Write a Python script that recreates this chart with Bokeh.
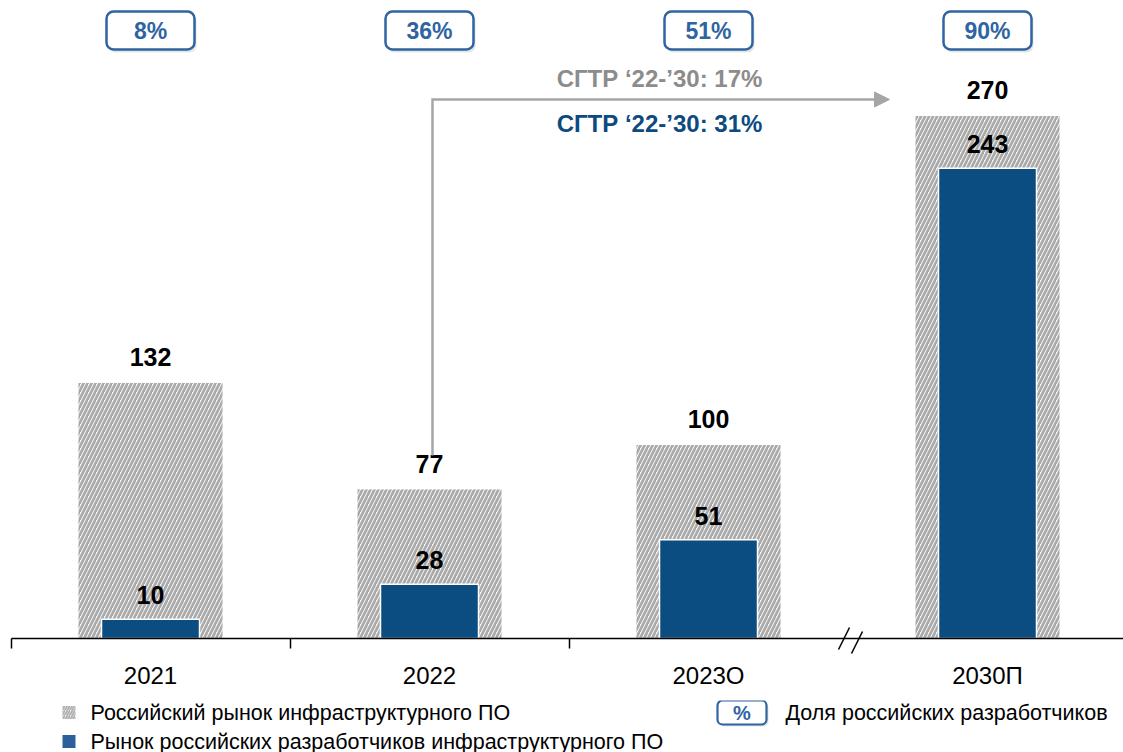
from bokeh.plotting import figure
from bokeh.models import (Range1d, LinearAxis, FixedTicker, ColumnDataSource,
                          Arrow, NormalHead)
from bokeh.layouts import column
from bokeh.core.properties import value
from bokeh.embed import file_html
from bokeh.resources import INLINE

# ---------------- data ----------------
categories = ["2021", "2022", "2023О", "2030П"]
market_total = [132, 77, 100, 270]          # Российский рынок инфраструктурного ПО
russian_dev = [10, 28, 51, 243]             # Рынок российских разработчиков
share_labels = ["8%", "36%", "51%", "90%"]  # Доля российских разработчиков
cagr_total = "СГТР ‘22-’30: 17%"
cagr_rus = "СГТР ‘22-’30: 31%"
legend_total = "Российский рынок инфраструктурного ПО"
legend_rus = "Рынок российских разработчиков инфраструктурного ПО"
legend_share = "Доля российских разработчиков"

# ---------------- style / layout ----------------
FONT = "Liberation Sans"
BLUE = "#0b4d80"
BOX_BLUE = "#2f64a2"
GRAY_ARROW = "#a6a6a6"
W = 1123
TOTAL_H = 752
BASE_PX = 638           # axis line position from top
BELOW_PX = 18           # frame extends below axis line
MAIN_H = 700
PX_CAT = 279.0          # pixels per category
PX_UNIT = 1.935         # pixels per value unit
X0 = -150.0 / PX_CAT
X1 = X0 + W / PX_CAT
Y1 = BASE_PX / PX_UNIT
Y0 = -BELOW_PX / PX_UNIT


def dx(px):
    return px / PX_CAT


def dy(px):
    return px / PX_UNIT


xs = list(range(len(categories)))
BOX_Y = Y1 - dy(30)

src = ColumnDataSource(dict(
    x=xs,
    total=market_total,
    rus=russian_dev,
    total_txt=[str(v) for v in market_total],
    rus_txt=[str(v) for v in russian_dev],
    total_ly=[v + dy(26) for v in market_total],
    rus_ly=[v + dy(24) for v in russian_dev],
    share=share_labels,
    bl=[x - dx(44) for x in xs],
    br=[x + dx(44) for x in xs],
    sl=[x - dx(42) for x in xs],
    sr=[x + dx(46) for x in xs],
    by=[BOX_Y] * len(xs),
))

p = figure(width=W, height=MAIN_H, x_range=Range1d(X0, X1), y_range=Range1d(Y0, Y1),
           output_backend="svg", toolbar_location=None,
           x_axis_type=None, y_axis_type=None,
           min_border_left=0, min_border_right=0, min_border_top=0,
           min_border_bottom=MAIN_H - BASE_PX - BELOW_PX)
p.outline_line_color = None
p.background_fill_color = "white"
p.border_fill_color = "white"

# bars
p.vbar(x="x", top="total", bottom=0, width=dx(144), source=src,
       fill_color="#f4f4f4", line_color=None,
       hatch_pattern="/", hatch_color="#a9a9a9", hatch_scale=8, hatch_weight=2.6)
p.vbar(x="x", top="rus", bottom=0, width=dx(98), source=src,
       fill_color=BLUE, line_color="white", line_width=1.5)

# value labels
p.text(x="x", y="total_ly", text="total_txt", source=src,
       text_font=value(FONT), text_font_style="bold", text_font_size="25px",
       text_color="black", text_align="center", text_baseline="middle")
p.text(x="x", y="rus_ly", text="rus_txt", source=src,
       text_font=value(FONT), text_font_style="bold", text_font_size="25px",
       text_color="black", text_align="center", text_baseline="middle")

# share boxes
p.quad(left="sl", right="sr", top=BOX_Y + dy(17), bottom=BOX_Y - dy(22), source=src,
       fill_color="black", fill_alpha=0.10, line_color=None, border_radius=7)
p.quad(left="bl", right="br", top=BOX_Y + dy(19), bottom=BOX_Y - dy(19), source=src,
       fill_color="white", line_color=BOX_BLUE, line_width=2.5, border_radius=7)
p.text(x="x", y="by", text="share", source=src,
       text_font=value(FONT), text_font_style="bold", text_font_size="23px",
       text_color=BOX_BLUE, text_align="center", text_baseline="middle")

# CAGR connector
xa = 1 + dx(3)
xb = 2 + dx(181)
y_low = 77 + dy(34)
y_top = Y1 - dy(99)
p.line(x=[xa, xa, xb - dx(10)], y=[y_low, y_top, y_top],
       line_color=GRAY_ARROW, line_width=2.5, line_join="miter")
p.add_layout(Arrow(end=NormalHead(size=15, fill_color=GRAY_ARROW, line_color=GRAY_ARROW),
                   x_start=xb - dx(14), y_start=y_top, x_end=xb, y_end=y_top,
                   line_color=GRAY_ARROW, line_width=2.5))
cx = 1 + dx(230)
p.text(x=[cx], y=[Y1 - dy(78)], text=[cagr_total],
       text_font=value(FONT), text_font_style="bold", text_font_size="24px",
       text_color="#8c8c8c", text_align="center", text_baseline="middle")
p.text(x=[cx], y=[Y1 - dy(123)], text=[cagr_rus],
       text_font=value(FONT), text_font_style="bold", text_font_size="24px",
       text_color="#0c4a7f", text_align="center", text_baseline="middle")

# x axis line + boundary ticks, fixed at value 0
ax_line = LinearAxis(
    fixed_location=0,
    ticker=FixedTicker(ticks=[], minor_ticks=[-0.5, 0.5, 1.5]),
    bounds=(-0.5, X1),
    axis_line_color="black", axis_line_width=1.5,
    major_tick_line_color=None, major_tick_in=0, major_tick_out=0,
    minor_tick_line_color="black", minor_tick_line_width=1.5,
    minor_tick_in=0, minor_tick_out=10,
    major_label_standoff=0, major_label_text_font_size="0px",
)
p.add_layout(ax_line, "below")

# category labels
ax_lab = LinearAxis(
    ticker=FixedTicker(ticks=xs),
    major_label_overrides={i: c for i, c in zip(xs, categories)},
    axis_line_color=None,
    major_tick_line_color=None, major_tick_in=0, major_tick_out=0,
    minor_tick_line_color=None,
    major_label_standoff=5,
    major_label_text_font=FONT, major_label_text_font_size="24px",
    major_label_text_color="black",
)
p.add_layout(ax_lab, "below")

# axis break marks
p.segment(x0=[2.5 + dx(1.5), 2.5 + dx(14.5)], y0=[dy(11), dy(7)],
          x1=[2.5 + dx(-9.5), 2.5 + dx(3.5)], y1=[dy(-11), dy(-15)],
          line_color="black", line_width=1.6)

# ---------------- legend figure ----------------
LEG_H = TOTAL_H - MAIN_H
TOP = MAIN_H
BOT = TOTAL_H
q = figure(width=W, height=LEG_H, x_range=Range1d(0, W), y_range=Range1d(BOT, TOP),
           output_backend="svg", toolbar_location=None,
           x_axis_type=None, y_axis_type=None,
           min_border_left=0, min_border_right=0, min_border_top=0, min_border_bottom=0)
q.outline_line_color = None
q.background_fill_color = "white"
q.border_fill_color = "white"

r1 = 712
r2 = 741
q.quad(left=[62], right=[75], top=[r1 - 6.5], bottom=[r1 + 6.5],
       fill_color="#f2f2f2", line_color=None,
       hatch_pattern="/", hatch_color="#b0b0b0", hatch_scale=5, hatch_weight=1.8)
q.quad(left=[62], right=[75], top=[r2 - 6.5], bottom=[r2 + 6.5],
       fill_color="#2c609c", line_color=None)
q.text(x=[90, 90], y=[r1, r2], text=[legend_total, legend_rus],
       text_font=value(FONT), text_font_size="21.5px", text_color="black",
       text_align="left", text_baseline="middle")
q.quad(left=[719], right=[768], top=[r1 - 10], bottom=[r1 + 14],
       fill_color="black", fill_alpha=0.10, line_color=None, border_radius=5)
q.quad(left=[717], right=[766], top=[r1 - 12], bottom=[r1 + 12],
       fill_color="white", line_color=BOX_BLUE, line_width=2.2, border_radius=5)
q.text(x=[741.5], y=[r1], text=["%"],
       text_font=value(FONT), text_font_style="bold", text_font_size="20px",
       text_color=BOX_BLUE, text_align="center", text_baseline="middle")
q.text(x=[785], y=[r1], text=[legend_share],
       text_font=value(FONT), text_font_size="21.5px", text_color="black",
       text_align="left", text_baseline="middle")

layout = column(p, q, spacing=0)
open("out.html", "w").write(file_html(layout, INLINE))
